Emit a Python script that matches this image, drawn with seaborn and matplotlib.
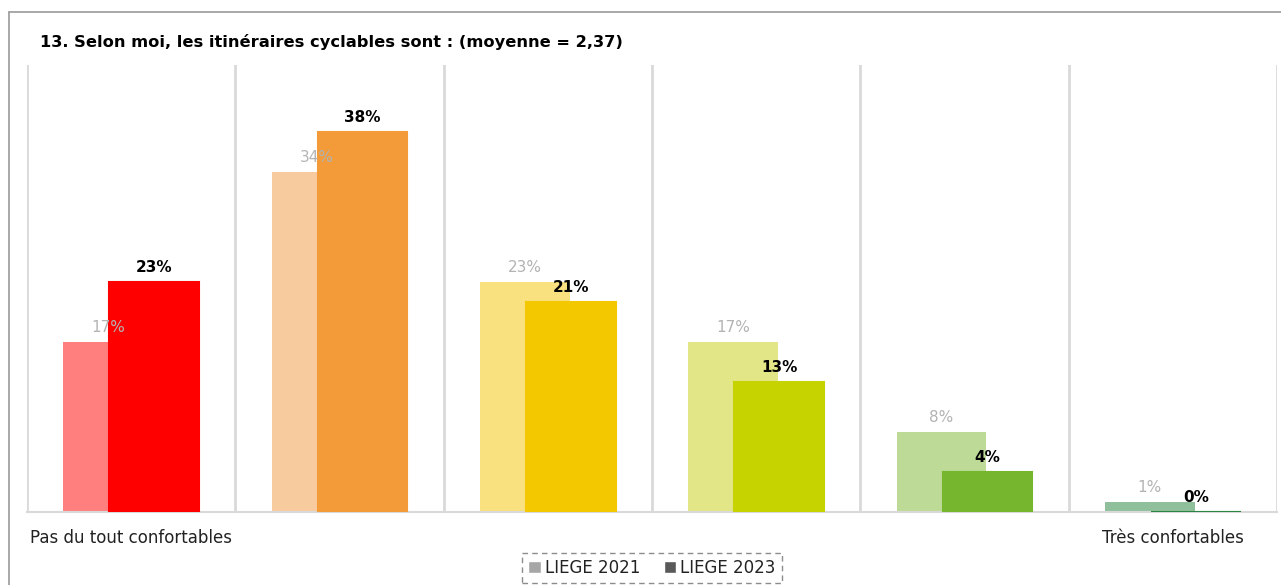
import matplotlib
matplotlib.use("Agg")
import matplotlib.pyplot as plt
from matplotlib.patches import Patch
from matplotlib.lines import Line2D
import numpy as np
import pandas as pd
import seaborn as sns

# Survey answers, from least to most comfortable
categories = ["Pas du tout confortables", "cat2", "cat3", "cat4", "cat5", "Très confortables"]
tick_labels = ["Pas du tout confortables", "", "", "", "", "Très confortables"]
values_2021 = [17, 34, 23, 17, 8, 1]
values_2023 = [23, 38, 21, 13, 4, 0]
colors_2021 = ["#ff7f7f", "#f8cb9f", "#f9e17f", "#e2e686", "#bddb97", "#8fc09b"]
colors_2023 = ["#ff0000", "#f39a39", "#f3c800", "#c7d300", "#76b52e", "#2a8443"]
series_names = ["LIEGE 2021", "LIEGE 2023"]
title = "13. Selon moi, les itinéraires cyclables sont : (moyenne = 2,37)"

sns.set_theme(style="white")
plt.rcParams["font.family"] = ["DejaVu Sans"]

W, H = 1281, 585
fig = plt.figure(figsize=(W / 100, H / 100), dpi=100)
ax = fig.add_axes([27 / W, 1 - 512 / H, (1277 - 27) / W, (512 - 65) / H])

idx = np.arange(len(categories))
bar_w = 0.43
shift = 0.11

df21 = pd.DataFrame({"pos": idx - shift, "val": values_2021, "cat": categories})
df23 = pd.DataFrame({"pos": idx + shift, "val": values_2023, "cat": categories})

sns.barplot(data=df21, x="pos", y="val", hue="cat", palette=colors_2021,
            native_scale=True, dodge=False, width=bar_w, legend=False,
            saturation=1, linewidth=0, ax=ax, zorder=2)
n21 = len(ax.patches)
sns.barplot(data=df23, x="pos", y="val", hue="cat", palette=colors_2023,
            native_scale=True, dodge=False, width=bar_w, legend=False,
            saturation=1, linewidth=0, ax=ax, zorder=3)
bars23 = ax.patches[n21:]
# thin outline so a 0 % bar still shows as a line on the baseline
for p in bars23:
    p.set_edgecolor(p.get_facecolor())
    p.set_linewidth(1.5)

for x, v in zip(idx - shift, values_2021):
    ax.annotate(f"{v}%", (x, v), xytext=(0, 5), textcoords="offset points",
                ha="center", va="bottom", fontsize=11, color="#b3b3b3", zorder=5)
for x, v in zip(idx + shift, values_2023):
    ax.annotate(f"{v}%", (x, v), xytext=(0, 5), textcoords="offset points",
                ha="center", va="bottom", fontsize=11, fontweight="bold",
                color="#000000", zorder=5)

ax.set_xlim(-0.5, len(categories) - 0.5)
ax.set_ylim(0, 44.7)
ax.set_xticks(idx)
ax.set_xticklabels(tick_labels, fontsize=12, color="#222222")
ax.tick_params(axis="x", length=0, pad=12)
ax.set_yticks([])
ax.set_xlabel("")
ax.set_ylabel("")
for b in np.arange(-0.5, len(categories), 1.0):
    ax.axvline(b, color="#d9d9d9", lw=2, zorder=1)
for s in ["top", "right", "left"]:
    ax.spines[s].set_visible(False)
ax.spines["bottom"].set_color("#d9d9d9")
ax.spines["bottom"].set_linewidth(1.5)

fig.text(40 / W, 1 - 42 / H, title, fontsize=11.7, fontweight="bold",
         ha="left", va="center", color="#000000")

# chart frame (left and top edges)
fig.add_artist(Line2D([9 / W, 9 / W], [1 - 12 / H, 0], transform=fig.transFigure,
                      color="#9a9a9a", lw=1.2))
fig.add_artist(Line2D([9 / W, 1], [1 - 12 / H, 1 - 12 / H], transform=fig.transFigure,
                      color="#9a9a9a", lw=1.2))

handles = [Patch(facecolor="#a6a6a6", label=series_names[0]),
           Patch(facecolor="#595959", label=series_names[1])]
leg = fig.legend(handles=handles, loc="center", bbox_to_anchor=(652 / W, 1 - 568 / H),
                 ncol=2, fontsize=12, frameon=True, fancybox=False,
                 handlelength=0.75, handleheight=0.75, handletextpad=0.25,
                 columnspacing=1.4, borderpad=0.38, borderaxespad=0)
frame = leg.get_frame()
frame.set_edgecolor("#707070")
frame.set_linestyle((0, (4, 3)))
frame.set_linewidth(1.0)
for t in leg.get_texts():
    t.set_color("#222222")

fig.savefig("out.png", dpi=100)
